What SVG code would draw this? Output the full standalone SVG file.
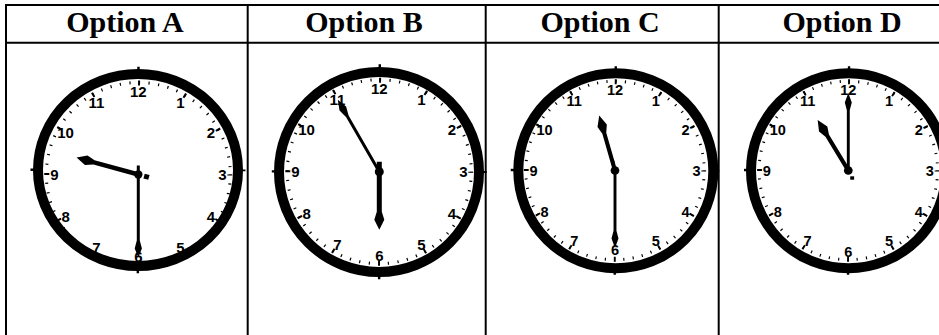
<svg xmlns="http://www.w3.org/2000/svg" xmlns:xlink="http://www.w3.org/1999/xlink" width="939" height="335" viewBox="0 0 939 335">
<style>
.grid{stroke:#000;stroke-width:2;fill:none}
.hdr{font-family:"Liberation Serif","Times New Roman",serif;font-weight:bold;font-size:30px;text-anchor:middle;fill:#000}
.num{font-family:"Liberation Sans",Arial,sans-serif;font-weight:bold;font-size:15px;text-anchor:middle;fill:#000}
.ring{fill:#fff;stroke:#000;stroke-width:10}
.hand{fill:#000}
</style>
<defs>
<g id="ticks">
<circle r="92" fill="none" stroke="#000" stroke-width="3" stroke-dasharray="1.2 8.4462" stroke-dashoffset="0.6"/>
<circle r="91.5" fill="none" stroke="#000" stroke-width="5" stroke-dasharray="2 45.9159" stroke-dashoffset="1"/>
</g>
<g id="cardinal">
<circle r="104.5" fill="none" stroke="#000" stroke-width="6" stroke-dasharray="2.5 161.646" stroke-dashoffset="1.25"/>
</g>
</defs>
<rect width="939" height="335" fill="#fff"/>

<g id="table">
<line class="grid" x1="5" y1="5" x2="939" y2="5"/>
<line class="grid" x1="5" y1="42.7" x2="939" y2="42.7"/>
<line class="grid" x1="6" y1="4" x2="6" y2="335"/>
<line class="grid" x1="247.7" y1="4" x2="247.7" y2="335"/>
<line class="grid" x1="485.7" y1="4" x2="485.7" y2="335"/>
<line class="grid" x1="718.7" y1="4" x2="718.7" y2="335"/>
<text class="hdr" x="125" y="32">Option A</text>
<text class="hdr" x="364" y="32">Option B</text>
<text class="hdr" x="600" y="32">Option C</text>
<text class="hdr" x="842" y="32">Option D</text>
</g>

<g id="clockA">
<g transform="translate(138,170) scale(1,0.96)"><use xlink:href="#cardinal"/></g>
<ellipse class="ring" cx="138" cy="170" rx="100" ry="96"/>
<g transform="translate(138.3,174.5)">
<use xlink:href="#ticks"/>
<text class="num" x="0" y="-78">12</text>
<text class="num" x="42" y="-67">1</text>
<text class="num" x="72.7" y="-36.5">2</text>
<text class="num" x="84" y="5.5">3</text>
<text class="num" x="72.7" y="47.5">4</text>
<text class="num" x="42" y="78">5</text>
<text class="num" x="0" y="87">6</text>
<text class="num" x="-42" y="78">7</text>
<text class="num" x="-72.7" y="47.5">8</text>
<text class="num" x="-84" y="5.5">9</text>
<text class="num" x="-72.7" y="-36.5">10</text>
<text class="num" x="-42" y="-67">11</text>
<g transform="rotate(285.3)">
<path class="hand" d="M -2.3,2 L -2.3,-46 L -5,-54 L 0,-64 L 5,-54 L 2.3,-46 L 2.3,2 Z"/>
<rect class="hand" x="-2.5" y="6" width="5" height="5"/>
</g>
<g transform="rotate(180)">
<path class="hand" d="M -1.5,9 L -1.5,-66 L -3.6,-74 L 0,-83 L 3.6,-74 L 1.5,-66 L 1.5,9 Z"/>
</g>
<circle r="4.2" fill="#000"/>
</g>
</g>

<g id="clockB">
<circle class="ring" cx="379" cy="172" r="100"/>
<g transform="translate(379.3,171.7)">
<use xlink:href="#cardinal"/>
<use xlink:href="#ticks"/>
<text class="num" x="0" y="-78">12</text>
<text class="num" x="42" y="-67">1</text>
<text class="num" x="72.7" y="-36.5">2</text>
<text class="num" x="84" y="5.5">3</text>
<text class="num" x="72.7" y="47.5">4</text>
<text class="num" x="42" y="78">5</text>
<text class="num" x="0" y="89">6</text>
<text class="num" x="-42" y="78">7</text>
<text class="num" x="-72.7" y="47.5">8</text>
<text class="num" x="-84" y="5.5">9</text>
<text class="num" x="-72.7" y="-36.5">10</text>
<text class="num" x="-42" y="-67">11</text>
<g transform="rotate(180)">
<path class="hand" d="M -2.5,10 L -2.5,-40 L -5,-48 L 0,-58 L 5,-48 L 2.5,-40 L 2.5,10 Z"/>
</g>
<g transform="rotate(330)">
<path class="hand" d="M -1.5,2 L -1.5,-64 L -3.8,-73 L 0,-83 L 3.8,-73 L 1.5,-64 L 1.5,2 Z"/>
</g>
<circle r="4.5" fill="#000"/>
</g>
</g>

<g id="clockC">
<circle class="ring" cx="615.8" cy="170.8" r="97.5"/>
<g transform="translate(615,170.5) scale(0.97)">
<use xlink:href="#cardinal"/>
<use xlink:href="#ticks"/>
<text class="num" x="0" y="-78">12</text>
<text class="num" x="42" y="-67">1</text>
<text class="num" x="72.7" y="-36.5">2</text>
<text class="num" x="84" y="5.5">3</text>
<text class="num" x="72.7" y="47.5">4</text>
<text class="num" x="42" y="78">5</text>
<text class="num" x="0" y="87">6</text>
<text class="num" x="-42" y="78">7</text>
<text class="num" x="-72.7" y="47.5">8</text>
<text class="num" x="-84" y="5.5">9</text>
<text class="num" x="-72.7" y="-36.5">10</text>
<text class="num" x="-42" y="-67">11</text>
<g transform="rotate(344)">
<path class="hand" d="M -2.1,2 L -2.1,-40 L -5,-48 L 0,-59 L 5,-48 L 2.1,-40 L 2.1,2 Z"/>
</g>
<g transform="rotate(180)">
<path class="hand" d="M -1.5,2 L -1.5,-62 L -3.6,-70 L 0,-80 L 3.6,-70 L 1.5,-62 L 1.5,2 Z"/>
<rect class="hand" x="0.5" y="6" width="3.5" height="4"/>
</g>
<circle r="4.5" fill="#000"/>
</g>
</g>

<g id="clockD">
<circle class="ring" cx="848.5" cy="170.8" r="97.5"/>
<g transform="translate(848.3,170.5) scale(0.97)">
<use xlink:href="#cardinal"/>
<use xlink:href="#ticks"/>
<text class="num" x="0" y="-78">12</text>
<text class="num" x="42" y="-67">1</text>
<text class="num" x="72.7" y="-36.5">2</text>
<text class="num" x="84" y="5.5">3</text>
<text class="num" x="72.7" y="47.5">4</text>
<text class="num" x="42" y="78">5</text>
<text class="num" x="0" y="89">6</text>
<text class="num" x="-42" y="78">7</text>
<text class="num" x="-72.7" y="47.5">8</text>
<text class="num" x="-84" y="5.5">9</text>
<text class="num" x="-72.7" y="-36.5">10</text>
<text class="num" x="-42" y="-67">11</text>
<g transform="rotate(328.8)">
<path class="hand" d="M -2.1,2 L -2.1,-42 L -5,-50 L 0,-61 L 5,-50 L 2.1,-42 L 2.1,2 Z"/>
</g>
<g transform="rotate(0)">
<path class="hand" d="M -1.5,2 L -1.5,-62 L -3.6,-70 L 0,-80 L 3.6,-70 L 1.5,-62 L 1.5,2 Z"/>
</g>
<rect class="hand" x="2" y="6" width="4" height="3.5"/>
<circle r="4.5" fill="#000"/>
</g>
</g>
</svg>
